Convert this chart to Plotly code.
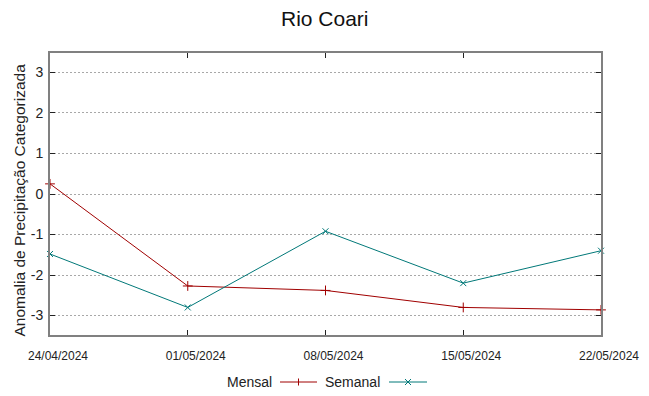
import plotly.graph_objects as go

dates = ["2024-04-24", "2024-05-01", "2024-05-08", "2024-05-15", "2024-05-22"]
tick_labels = ["24/04/2024", "01/05/2024", "08/05/2024", "15/05/2024", "22/05/2024"]
mensal = [0.25, -2.27, -2.38, -2.80, -2.86]
semanal = [-1.48, -2.80, -0.92, -2.20, -1.40]
y_ticks = [-3, -2, -1, 0, 1, 2, 3]
y_tick_labels = ["-3", "-2", "-1", "0", "1", "2", "3"]

RED = "#a00000"
TEAL = "#007878"
W, H = 649, 396
L, R, T, B = 50, 48, 53, 61
PW, PH = W - L - R, H - T - B

fig = go.Figure()
fig.add_trace(go.Scatter(x=dates, y=mensal, mode="lines+markers", name="Mensal",
                         line=dict(color=RED, width=1),
                         marker=dict(symbol="cross-thin", size=7, line=dict(color=RED, width=1)),
                         cliponaxis=False, showlegend=False))
fig.add_trace(go.Scatter(x=dates, y=semanal, mode="lines+markers", name="Semanal",
                         line=dict(color=TEAL, width=1),
                         marker=dict(symbol="x-thin", size=6, line=dict(color=TEAL, width=1)),
                         cliponaxis=False, showlegend=False))

def px(x):
    return (x - L) / PW

def py(y):
    return (T + PH - y) / PH

shapes = []
annotations = []
ly = 382
FONT = "Liberation Sans"
# y axis title
annotations.append(dict(x=px(19.5), y=py(200), xref="paper", yref="paper",
                        text="Anomalia de Precipitação Categorizada", textangle=-90,
                        showarrow=False, xanchor="center", yanchor="middle",
                        font=dict(family=FONT, size=15.5, color="#222")))
# title
annotations.append(dict(x=px(325), y=py(18), xref="paper", yref="paper", text="Rio Coari",
                        showarrow=False, xanchor="center", yanchor="middle",
                        font=dict(family=FONT, size=21, color="#111")))
# legend: Mensal
annotations.append(dict(x=px(274), y=py(ly), xref="paper", yref="paper", text="Mensal",
                        showarrow=False, xanchor="right", yanchor="middle",
                        font=dict(family=FONT, size=14, color="#222")))
shapes.append(dict(type="line", xref="paper", yref="paper", x0=px(280), x1=px(317),
                   y0=py(ly), y1=py(ly), line=dict(color=RED, width=1)))
shapes.append(dict(type="line", xref="paper", yref="paper", x0=px(298.5), x1=px(298.5),
                   y0=py(ly - 3.5), y1=py(ly + 3.5), line=dict(color=RED, width=1)))
# legend: Semanal
annotations.append(dict(x=px(382), y=py(ly), xref="paper", yref="paper", text="Semanal",
                        showarrow=False, xanchor="right", yanchor="middle",
                        font=dict(family=FONT, size=14, color="#222")))
shapes.append(dict(type="line", xref="paper", yref="paper", x0=px(389), x1=px(427),
                   y0=py(ly), y1=py(ly), line=dict(color=TEAL, width=1)))
shapes.append(dict(type="line", xref="paper", yref="paper", x0=px(405), x1=px(411),
                   y0=py(ly - 3), y1=py(ly + 3), line=dict(color=TEAL, width=1)))
shapes.append(dict(type="line", xref="paper", yref="paper", x0=px(405), x1=px(411),
                   y0=py(ly + 3), y1=py(ly - 3), line=dict(color=TEAL, width=1)))

fig.update_layout(
    width=W, height=H,
    margin=dict(l=L, r=R, t=T, b=B, autoexpand=False),
    paper_bgcolor="white", plot_bgcolor="white",
    font=dict(family=FONT, color="#222"),
    shapes=shapes, annotations=annotations,
    showlegend=False,
)
fig.update_xaxes(
    type="date", range=[dates[0], dates[-1]],
    tickvals=dates, ticktext=tick_labels,
    showgrid=False, zeroline=False, automargin=False,
    ticks="inside", ticklen=5, tickcolor="#222", tickwidth=1,
    showline=True, linecolor="#808080", linewidth=2, mirror="ticks",
    tickfont=dict(family=FONT, size=12, color="#222"),
    ticklabelshift=8, ticklabelstandoff=9,
)
fig.update_yaxes(
    range=[-3.48, 3.48], tickvals=y_ticks, ticktext=y_tick_labels,
    showgrid=True, gridcolor="#a8a8a8", griddash="2px,2px", gridwidth=1,
    zeroline=False, automargin=False,
    ticks="inside", ticklen=5, tickcolor="#222", tickwidth=1,
    showline=True, linecolor="#808080", linewidth=2, mirror="ticks",
    tickfont=dict(family=FONT, size=14, color="#222"),
    ticklabelstandoff=2,
)

fig.write_html("out.html", config={"displayModeBar": False},
               post_script="document.body.style.margin='0';document.body.style.padding='0';")
